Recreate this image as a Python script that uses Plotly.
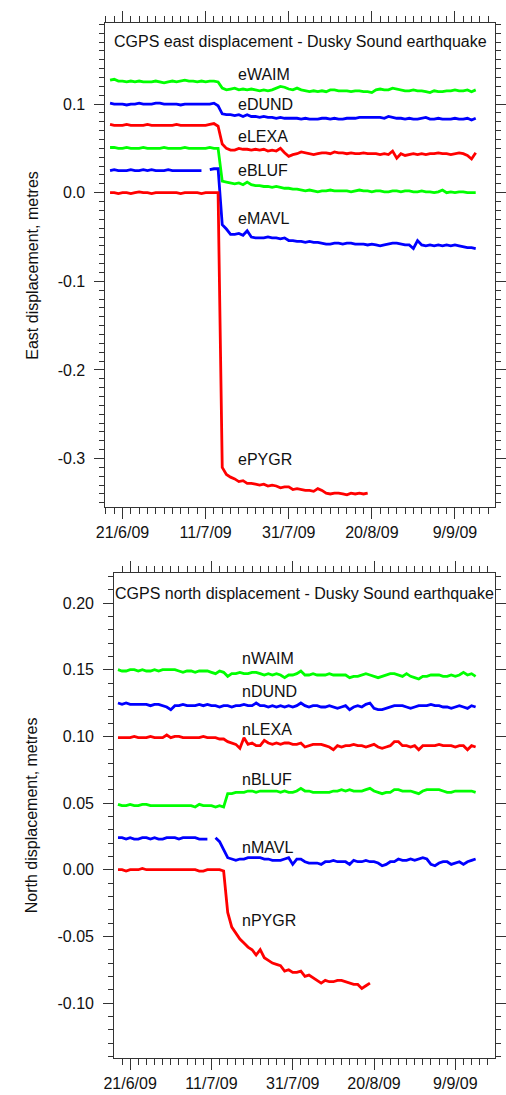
import pandas as pd
import plotly.graph_objects as go

# ---------------- data ----------------
dates = pd.date_range("2009-06-18", "2009-09-14", freq="D")

east_WAIM = [0.127, 0.128, 0.126, 0.126, 0.125, 0.126, 0.125, 0.126, 0.125, 0.125,
             0.125, 0.126, 0.125, 0.124, 0.125, 0.126, 0.125, 0.126, 0.127, 0.126,
             0.126, 0.125, 0.126, 0.125, 0.126, 0.126, 0.125,
             0.118, 0.116, 0.117, 0.118, 0.116, 0.117, 0.116, 0.117, 0.116, 0.115,
             0.116, 0.115, 0.116, 0.118, 0.120, 0.119, 0.117, 0.116, 0.118, 0.116,
             0.115, 0.114, 0.115, 0.114, 0.115, 0.114, 0.116, 0.116, 0.115, 0.115,
             0.115, 0.114, 0.115, 0.115, 0.114, 0.114, 0.113, 0.116, 0.117, 0.116,
             0.116, 0.118, 0.117, 0.116, 0.115, 0.115, 0.116, 0.115, 0.115, 0.114,
             0.113, 0.115, 0.114, 0.114, 0.115, 0.115, 0.116, 0.115, 0.115, 0.116,
             0.114, 0.116]
east_DUND = [0.101, 0.100, 0.100, 0.100, 0.099, 0.100, 0.100, 0.101, 0.100, 0.100,
             0.100, 0.101, 0.101, 0.100, 0.100, 0.100, 0.100, 0.099, 0.100, 0.100,
             0.100, 0.100, 0.100, 0.100, 0.100, 0.101, 0.098,
             0.089, 0.088, 0.088, 0.087, 0.088, 0.086, 0.088, 0.086, 0.086, 0.085,
             0.086, 0.085, 0.085, 0.084, 0.085, 0.084, 0.084, 0.084, 0.084, 0.083,
             0.084, 0.083, 0.083, 0.083, 0.084, 0.084, 0.083, 0.084, 0.083, 0.083,
             0.084, 0.084, 0.084, 0.085, 0.085, 0.085, 0.085, 0.085, 0.085, 0.084,
             0.086, 0.085, 0.084, 0.084, 0.083, 0.084, 0.083, 0.083, 0.084, 0.085,
             0.083, 0.083, 0.084, 0.083, 0.083, 0.083, 0.084, 0.083, 0.083, 0.084,
             0.082, 0.084]
east_LEXA = [0.077, 0.076, 0.076, 0.076, 0.077, 0.076, 0.076, 0.076, 0.076, 0.077,
             0.076, 0.076, 0.076, 0.076, 0.076, 0.076, 0.077, 0.076, 0.076, 0.076,
             0.076, 0.076, 0.076, 0.076, 0.077, 0.078, 0.075,
             0.055, 0.050, 0.048, 0.048, 0.050, 0.049, 0.049, 0.048, 0.049, 0.048,
             0.049, 0.047, 0.048, 0.047, 0.050, 0.045, 0.041, 0.043, 0.044, 0.046,
             0.045, 0.044, 0.043, 0.044, 0.045, 0.045, 0.044, 0.046, 0.045, 0.045,
             0.044, 0.045, 0.044, 0.044, 0.045, 0.044, 0.044, 0.044, 0.043, 0.044,
             0.043, 0.047, 0.039, 0.044, 0.042, 0.043, 0.044, 0.043, 0.044, 0.043,
             0.044, 0.044, 0.045, 0.044, 0.044, 0.043, 0.044, 0.045, 0.044, 0.042,
             0.038, 0.045]
east_BLUF = [0.051, 0.051, 0.050, 0.050, 0.051, 0.050, 0.050, 0.050, 0.051, 0.050,
             0.050, 0.050, 0.050, 0.051, 0.050, 0.050, 0.050, 0.050, 0.051, 0.050,
             0.050, 0.050, 0.050, 0.050, 0.051, 0.050, 0.050,
             0.013, 0.012, 0.011, 0.010, 0.011, 0.009, 0.012, 0.009, 0.008, 0.008,
             0.007, 0.007, 0.006, 0.007, 0.006, 0.005, 0.005, 0.004, 0.004, 0.003,
             0.002, 0.003, 0.002, 0.001, 0.002, 0.002, 0.003, 0.002, 0.002, 0.002,
             0.002, 0.001, 0.002, 0.003, 0.002, 0.002, 0.001, 0.002, 0.002, 0.001,
             0.001, 0.002, 0.002, 0.001, 0.002, 0.002, 0.001, 0.001, 0.002, 0.001,
             0.001, 0.000, 0.001, 0.003, 0.000, 0.001, 0.000, 0.001, 0.001, 0.000,
             0.000, 0.000]
east_MAVL = [0.025, 0.026, 0.025, 0.025, 0.025, 0.026, 0.025, 0.025, 0.026, 0.025,
             0.026, 0.025, 0.025, 0.025, 0.026, 0.025, 0.025, 0.025, 0.025, 0.025,
             0.025, 0.025, 0.025, None, 0.026, 0.027, 0.027,
             -0.036, -0.041, -0.047, -0.047, -0.046, -0.048, -0.043, -0.050, -0.051, -0.051,
             -0.051, -0.050, -0.051, -0.051, -0.052, -0.051, -0.054, -0.054, -0.055, -0.055,
             -0.056, -0.055, -0.056, -0.056, -0.057, -0.058, -0.058, -0.057, -0.057, -0.058,
             -0.057, -0.057, -0.058, -0.058, -0.058, -0.059, -0.058, -0.059, -0.060, -0.059,
             -0.058, -0.057, -0.057, -0.058, -0.059, -0.059, -0.063, -0.054, -0.059, -0.060,
             -0.059, -0.060, -0.059, -0.060, -0.059, -0.060, -0.059, -0.060, -0.061, -0.062,
             -0.062, -0.063]
east_PYGR = [0.000, 0.000, -0.001, 0.000, 0.000, -0.001, 0.000, 0.001, 0.000, 0.000,
             -0.001, 0.000, 0.000, 0.000, 0.000, 0.000, 0.000, -0.001, 0.000, 0.000,
             0.000, 0.000, -0.001, 0.000, 0.000, 0.000, 0.000,
             -0.310, -0.318, -0.321, -0.323, -0.326, -0.325, -0.328, -0.328, -0.329, -0.330,
             -0.329, -0.331, -0.330, -0.331, -0.333, -0.332, -0.332, -0.335, -0.334, -0.335,
             -0.336, -0.336, -0.337, -0.334, -0.336, -0.339, -0.340, -0.339, -0.339, -0.340,
             -0.341, -0.339, -0.340, -0.339, -0.340, -0.339]

north_WAIM = [0.150, 0.149, 0.149, 0.150, 0.150, 0.149, 0.150, 0.149, 0.149, 0.150,
              0.149, 0.150, 0.150, 0.150, 0.150, 0.149, 0.148, 0.149, 0.149, 0.148,
              0.149, 0.149, 0.149, 0.148, 0.147, 0.149, 0.148,
              0.145, 0.147, 0.147, 0.148, 0.147, 0.147, 0.148, 0.148, 0.147, 0.146,
              0.147, 0.146, 0.147, 0.146, 0.144, 0.146, 0.146, 0.147, 0.149, 0.146,
              0.146, 0.147, 0.146, 0.146, 0.146, 0.147, 0.146, 0.146, 0.146, 0.146,
              0.144, 0.145, 0.145, 0.146, 0.147, 0.146, 0.145, 0.144, 0.145, 0.146,
              0.147, 0.147, 0.146, 0.145, 0.147, 0.145, 0.144, 0.143, 0.145, 0.145,
              0.146, 0.146, 0.146, 0.145, 0.145, 0.146, 0.145, 0.146, 0.148, 0.146,
              0.147, 0.145]
north_DUND = [0.125, 0.124, 0.125, 0.124, 0.124, 0.124, 0.124, 0.124, 0.123, 0.124,
              0.124, 0.123, 0.122, 0.120, 0.123, 0.123, 0.124, 0.123, 0.123, 0.123,
              0.124, 0.123, 0.124, 0.123, 0.123, 0.122, 0.123,
              0.123, 0.122, 0.123, 0.123, 0.124, 0.123, 0.123, 0.125, 0.123, 0.123,
              0.122, 0.123, 0.122, 0.123, 0.122, 0.123, 0.122, 0.123, 0.125, 0.123,
              0.122, 0.123, 0.123, 0.122, 0.122, 0.123, 0.122, 0.121, 0.122, 0.123,
              0.120, 0.122, 0.123, 0.122, 0.124, 0.125, 0.121, 0.120, 0.120, 0.121,
              0.122, 0.123, 0.123, 0.123, 0.122, 0.121, 0.122, 0.123, 0.123, 0.123,
              0.124, 0.123, 0.123, 0.122, 0.122, 0.121, 0.122, 0.123, 0.122, 0.121,
              0.123, 0.122]
north_LEXA = [0.099, 0.099, 0.099, 0.099, 0.100, 0.099, 0.099, 0.099, 0.100, 0.099,
              0.099, 0.099, 0.101, 0.099, 0.100, 0.100, 0.099, 0.099, 0.099, 0.099,
              0.099, 0.100, 0.099, 0.099, 0.099, 0.098, 0.098,
              0.096, 0.095, 0.094, 0.091, 0.099, 0.094, 0.095, 0.093, 0.093, 0.097,
              0.095, 0.094, 0.095, 0.094, 0.095, 0.095, 0.094, 0.094, 0.095, 0.092,
              0.093, 0.094, 0.094, 0.094, 0.093, 0.092, 0.090, 0.093, 0.092, 0.093,
              0.093, 0.094, 0.093, 0.093, 0.092, 0.093, 0.094, 0.092, 0.091, 0.092,
              0.093, 0.096, 0.096, 0.093, 0.093, 0.092, 0.093, 0.090, 0.093, 0.093,
              0.093, 0.093, 0.094, 0.093, 0.093, 0.093, 0.092, 0.093, 0.093, 0.090,
              0.093, 0.092]
north_BLUF = [0.049, 0.048, 0.048, 0.049, 0.048, 0.048, 0.049, 0.049, 0.048, 0.048,
              0.048, 0.048, 0.048, 0.048, 0.048, 0.048, 0.048, 0.048, 0.048, 0.047,
              0.049, 0.048, 0.048, 0.048, 0.047, 0.048, 0.047,
              0.057, 0.057, 0.058, 0.058, 0.058, 0.059, 0.059, 0.058, 0.059, 0.059,
              0.059, 0.059, 0.059, 0.058, 0.059, 0.058, 0.058, 0.059, 0.061, 0.059,
              0.059, 0.058, 0.058, 0.058, 0.058, 0.058, 0.059, 0.059, 0.060, 0.059,
              0.060, 0.059, 0.059, 0.059, 0.060, 0.061, 0.059, 0.058, 0.057, 0.058,
              0.058, 0.060, 0.060, 0.059, 0.059, 0.059, 0.058, 0.057, 0.059, 0.060,
              0.060, 0.060, 0.060, 0.059, 0.058, 0.058, 0.059, 0.059, 0.059, 0.059,
              0.059, 0.058]
north_MAVL = [0.024, 0.024, 0.023, 0.024, 0.023, 0.023, 0.024, 0.024, 0.023, 0.024,
              0.023, 0.023, 0.024, 0.024, 0.024, 0.023, 0.024, 0.024, 0.024, 0.024,
              0.023, 0.023, 0.023, None, 0.024, 0.021, 0.015,
              0.009, 0.008, 0.007, 0.008, 0.008, 0.009, 0.009, 0.009, 0.009, 0.008,
              0.008, 0.007, 0.007, 0.007, 0.008, 0.009, 0.004, 0.008, 0.008, 0.006,
              0.005, 0.005, 0.005, 0.004, 0.006, 0.006, 0.007, 0.006, 0.006, 0.006,
              0.004, 0.007, 0.006, 0.006, 0.007, 0.006, 0.006, 0.005, 0.003, 0.004,
              0.006, 0.006, 0.008, 0.007, 0.007, 0.008, 0.007, 0.008, 0.009, 0.008,
              0.004, 0.003, 0.005, 0.006, 0.006, 0.004, 0.005, 0.006, 0.004, 0.006,
              0.007, 0.008]
north_PYGR = [0.000, 0.000, -0.001, 0.000, 0.000, 0.000, 0.001, 0.000, 0.000, 0.000,
              0.000, 0.000, 0.000, 0.000, 0.000, 0.000, 0.000, 0.000, 0.000, 0.000,
              -0.001, -0.001, 0.000, 0.000, 0.000, 0.000, -0.001,
              -0.032, -0.043, -0.048, -0.052, -0.055, -0.058, -0.060, -0.064, -0.060, -0.066,
              -0.068, -0.070, -0.071, -0.072, -0.076, -0.075, -0.077, -0.077, -0.076, -0.080,
              -0.079, -0.081, -0.083, -0.085, -0.083, -0.084, -0.084, -0.083, -0.083, -0.084,
              -0.085, -0.086, -0.086, -0.089, -0.087, -0.085]

east_names = ["eWAIM", "eDUND", "eLEXA", "eBLUF", "eMAVL", "ePYGR"]
north_names = ["nWAIM", "nDUND", "nLEXA", "nBLUF", "nMAVL", "nPYGR"]
east_series = [east_WAIM, east_DUND, east_LEXA, east_BLUF, east_MAVL, east_PYGR]
north_series = [north_WAIM, north_DUND, north_LEXA, north_BLUF, north_MAVL, north_PYGR]
east_label_y = [0.1338, 0.0995, 0.0637, 0.0253, -0.0295, -0.3011]
north_label_y = [0.1584, 0.1335, 0.1053, 0.0675, 0.0166, -0.0381]

date_tick_vals = ["2009-06-21", "2009-07-11", "2009-07-31", "2009-08-20", "2009-09-09"]
date_tick_text = ["21/6/09", "11/7/09", "31/7/09", "20/8/09", "9/9/09"]
east_tick_vals = [0.1, 0.0, -0.1, -0.2, -0.3]
east_tick_text = ["0.1", "0.0", "-0.1", "-0.2", "-0.3"]
north_tick_vals = [0.20, 0.15, 0.10, 0.05, 0.00, -0.05, -0.10]
north_tick_text = ["0.20", "0.15", "0.10", "0.05", "0.00", "-0.05", "-0.10"]

# ---------------- style ----------------
W, H = 506, 1095
FONT = "Liberation Sans, Arial, Helvetica, sans-serif"
colors = ["#00ff00", "#0000ff", "#ff0000", "#00ff00", "#0000ff", "#ff0000"]
LW = 2.8

fig = go.Figure()
for name, vals, col in zip(east_names, east_series, colors):
    fig.add_trace(go.Scatter(x=dates[:len(vals)], y=vals, mode="lines", name=name,
                             line=dict(color=col, width=LW), xaxis="x", yaxis="y",
                             connectgaps=False))
for name, vals, col in zip(north_names, north_series, colors):
    fig.add_trace(go.Scatter(x=dates[:len(vals)], y=vals, mode="lines", name=name,
                             line=dict(color=col, width=LW), xaxis="x2", yaxis="y2",
                             connectgaps=False))

def px_x(p):
    return p / W

def px_y(p):
    return (H - p) / H

DAY = 86400000
axis_common = dict(showline=True, linecolor="#333", linewidth=1, mirror="allticks",
                   ticks="outside", tickcolor="#333", tickwidth=1, showgrid=False,
                   zeroline=False, tickfont=dict(family=FONT, size=16, color="#111"))

xcommon = dict(axis_common, type="date", tickmode="array", tickvals=date_tick_vals,
               ticktext=date_tick_text, ticklen=11,
               minor=dict(dtick=2 * DAY, tick0="2009-06-21", ticklen=6, ticks="outside",
                          tickcolor="#333", showgrid=False))

ycommon = dict(axis_common, tickmode="array", ticklen=10, ticklabelstandoff=6,
               minor=dict(dtick=0.01, tick0=0, ticklen=5, ticks="outside",
                          tickcolor="#333", showgrid=False))

fig.update_layout(
    width=W, height=H, margin=dict(l=0, r=0, t=0, b=0),
    paper_bgcolor="white", plot_bgcolor="white", showlegend=False,
    font=dict(family=FONT, size=16, color="#111"),
    xaxis=dict(xcommon, domain=[px_x(99), px_x(503)], anchor="y",
               range=["2009-06-16 21:36", "2009-09-18 16:00"]),
    yaxis=dict(ycommon, domain=[px_y(507), px_y(23)], anchor="x",
               range=[-0.3547, 0.1915], tickvals=east_tick_vals, ticktext=east_tick_text),
    xaxis2=dict(xcommon, domain=[px_x(108), px_x(503)], anchor="y2",
                range=["2009-06-17 01:30", "2009-09-18 19:00"]),
    yaxis2=dict(ycommon, domain=[px_y(1058), px_y(573)], anchor="x2",
                range=[-0.1412, 0.2225], tickvals=north_tick_vals, ticktext=north_tick_text),
)

ann = []
# panel titles
ann.append(dict(text="CGPS east displacement - Dusky Sound earthquake", xref="paper", yref="paper",
                x=px_x(301.7), y=px_y(41.7), xanchor="center", yanchor="middle", showarrow=False,
                font=dict(family=FONT, size=16, color="#111")))
ann.append(dict(text="CGPS north displacement - Dusky Sound earthquake", xref="paper", yref="paper",
                x=px_x(305.5), y=px_y(593.3), xanchor="center", yanchor="middle", showarrow=False,
                font=dict(family=FONT, size=16, color="#111")))
# axis titles
ann.append(dict(text="East displacement, metres", xref="paper", yref="paper",
                x=px_x(22.5), y=px_y(265), textangle=-90, xanchor="center", yanchor="middle",
                showarrow=False, font=dict(family=FONT, size=16, color="#111")))
ann.append(dict(text="North displacement, metres", xref="paper", yref="paper",
                x=px_x(22.5), y=px_y(815.5), textangle=-90, xanchor="center", yanchor="middle",
                showarrow=False, font=dict(family=FONT, size=16, color="#111")))
# series labels
for name, yv in zip(east_names, east_label_y):
    ann.append(dict(text=name, xref="x", yref="y", x="2009-07-18 06:00", y=yv,
                    xanchor="left", yanchor="middle", showarrow=False,
                    font=dict(family=FONT, size=16, color="#111")))
for name, yv in zip(north_names, north_label_y):
    ann.append(dict(text=name, xref="x2", yref="y2", x="2009-07-18 01:00", y=yv,
                    xanchor="left", yanchor="middle", showarrow=False,
                    font=dict(family=FONT, size=16, color="#111")))
fig.update_layout(annotations=ann)

for s in east_series[:5] + north_series[:5]:
    assert len(s) == len(dates), len(s)

fig.write_html("out.html")
